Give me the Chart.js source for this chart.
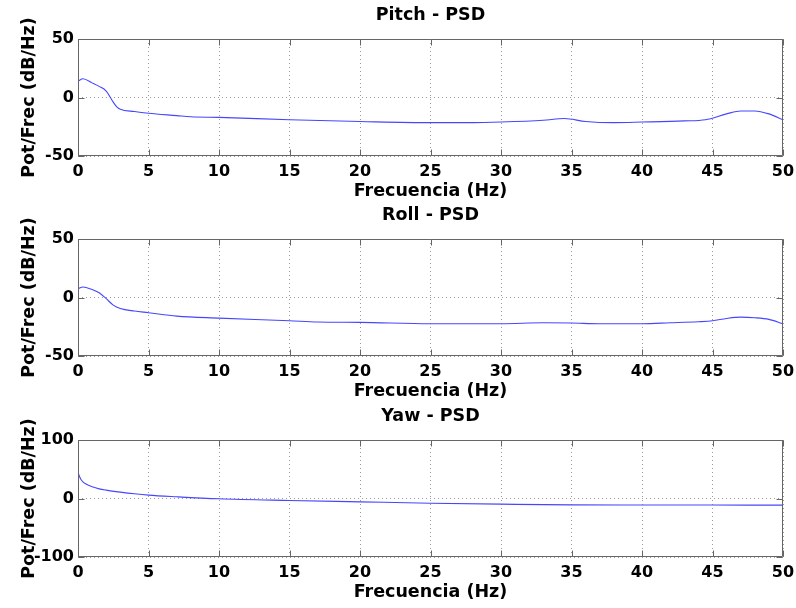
<!DOCTYPE html>
<html>
<head>
<meta charset="utf-8">
<title>PSD</title>
<script src="https://cdn.jsdelivr.net/npm/chart.js@4.4.1/dist/chart.umd.min.js"></script>
<style>
  body { margin: 0; background: #fff; width: 796px; height: 608px; overflow: hidden; position: relative; }
  canvas { position: absolute; left: 0; }
</style>
</head>
<body>
<canvas id="pitch-chart" width="796" height="200" style="top:0px"></canvas>
<canvas id="roll-chart" width="796" height="200" style="top:200px"></canvas>
<canvas id="yaw-chart" width="796" height="200" style="top:401px"></canvas>
<script>
// frequency axis ticks (Hz)
const freqTicks = [0, 5, 10, 15, 20, 25, 30, 35, 40, 45, 50];

// Pitch PSD (dB/Hz)
const pitchFreq = [0, 0.35, 1, 1.5, 2, 2.5, 2.75, 3, 4, 5, 7, 8, 10, 15, 20, 25, 28, 30, 33, 34.5, 36, 38, 40, 43, 44.5, 46, 47, 48, 49, 50];
const pitchPsd = [14, 16, 12.5, 9.5, 5.5, -4, -8, -10, -12, -13.5, -15.5, -16.5, -17, -19, -20.5, -21.5, -21.5, -21, -19.5, -18, -20.5, -21.5, -21, -20, -19, -14, -11.5, -11.5, -14, -19];

// Roll PSD (dB/Hz)
const rollFreq = [0, 0.35, 1, 1.5, 2, 2.5, 3, 4, 5, 7, 10, 15, 17, 20, 25, 30, 33, 35, 37, 40, 42, 44, 45, 46, 47, 48, 49, 50];
const rollPsd = [7.5, 9, 6.8, 4, -1, -6.5, -9.4, -11.6, -13, -15.9, -17.6, -19.9, -21, -21.3, -22.4, -22.4, -21.6, -21.8, -22.4, -22.4, -21.6, -20.7, -19.9, -17.9, -16.8, -17.3, -18.7, -22.4];

// Yaw PSD (dB/Hz)
const yawFreq = [0, 0.1, 0.2, 0.35, 0.5, 0.75, 1, 1.5, 2, 3, 4, 5, 7, 10, 15, 20, 25, 30, 35, 40, 45, 50];
const yawPsd = [45, 38, 33, 28.5, 25.7, 22.5, 20, 16.5, 14.3, 10.9, 8, 5.7, 2.9, -0.5, -3.4, -5.7, -8, -9.7, -10.9, -11, -11.2, -11.4];

const FONT = "'DejaVu Sans', sans-serif";
const LINE_COLOR = "rgb(70, 70, 255)";
const BOX_COLOR = "#666";
const GRID_COLOR = "#9a9a9a";

// box around the axes plus inward tick marks on all four sides
const boxTicks = {
  id: "boxTicks",
  afterDraw(chart) {
    const { ctx, chartArea: a, scales } = chart;
    const L = Math.round(a.left) + 0.5, R = Math.round(a.right) - 0.5;
    const T = Math.round(a.top) + 0.5, B = Math.round(a.bottom) - 0.5;
    ctx.save();
    ctx.strokeStyle = BOX_COLOR;
    ctx.lineWidth = 1;
    ctx.beginPath();
    scales.x.ticks.forEach((t) => {
      const px = Math.round(scales.x.getPixelForValue(t.value)) + 0.5;
      ctx.moveTo(px, B); ctx.lineTo(px, B - 6);
      ctx.moveTo(px, T); ctx.lineTo(px, T + 6);
    });
    scales.y.ticks.forEach((t) => {
      const py = Math.round(scales.y.getPixelForValue(t.value)) + 0.5;
      ctx.moveTo(L, py); ctx.lineTo(L + 6, py);
      ctx.moveTo(R, py); ctx.lineTo(R - 6, py);
    });
    ctx.rect(L, T, R - L, B - T);
    ctx.stroke();
    ctx.restore();
  },
};

const tickFont = { family: FONT, size: 16, weight: "bold", lineHeight: 1.2 };
const labelFont = { family: FONT, size: 17.5, weight: "bold", lineHeight: 1 };

function makePanel(canvasId, title, freqs, values, yMin, yMax) {
  const points = freqs.map((f, i) => ({ x: f, y: values[i] }));
  return new Chart(document.getElementById(canvasId), {
    type: "line",
    data: {
      datasets: [{
        data: points,
        borderColor: LINE_COLOR,
        borderWidth: 1.1,
        pointRadius: 0,
        cubicInterpolationMode: "monotone",
        fill: false,
      }],
    },
    options: {
      responsive: false,
      animation: false,
      layout: { padding: { right: 13, top: 0, bottom: 0, left: 0 } },
      plugins: {
        legend: { display: false },
        tooltip: { enabled: false },
      },
      scales: {
        x: {
          type: "linear",
          min: 0,
          max: 50,
          afterBuildTicks: (s) => { s.ticks = freqTicks.map((v) => ({ value: v })); },
          afterFit: (s) => { s.height = 44; s.paddingLeft = 0; s.paddingRight = 0; },
          grid: { color: GRID_COLOR, lineWidth: 1, drawTicks: false },
          border: { display: false, dash: [1, 3] },
          ticks: { color: "#000", padding: 6, font: tickFont },
          title: {
            display: true,
            text: "Frecuencia (Hz)",
            color: "#000",
            font: labelFont,
            padding: { top: 0, bottom: 0 },
          },
        },
        // top axis only carries the panel title, centred over the plot area
        top: {
          type: "linear",
          position: "top",
          min: 0,
          max: 50,
          afterFit: (s) => { s.height = 39; s.paddingLeft = 0; s.paddingRight = 0; },
          grid: { display: false },
          border: { display: false },
          ticks: { display: false },
          title: {
            display: true,
            text: title,
            color: "#000",
            font: labelFont,
            padding: { top: 7, bottom: 0 },
          },
        },
        y: {
          min: yMin,
          max: yMax,
          ticks: { stepSize: yMax, color: "#000", padding: 4, font: tickFont },
          afterFit: (s) => { s.width = 78; },
          grid: { color: GRID_COLOR, lineWidth: 1, drawTicks: false },
          border: { display: false, dash: [1, 3] },
          title: {
            display: true,
            text: "Pot/Frec (dB/Hz)",
            color: "#000",
            font: labelFont,
            padding: { top: 21, bottom: 0 },
          },
        },
      },
    },
    plugins: [boxTicks],
  });
}

makePanel("pitch-chart", "Pitch - PSD", pitchFreq, pitchPsd, -50, 50);
makePanel("roll-chart", "Roll - PSD", rollFreq, rollPsd, -50, 50);
makePanel("yaw-chart", "Yaw - PSD", yawFreq, yawPsd, -100, 100);
</script>
</body>
</html>
